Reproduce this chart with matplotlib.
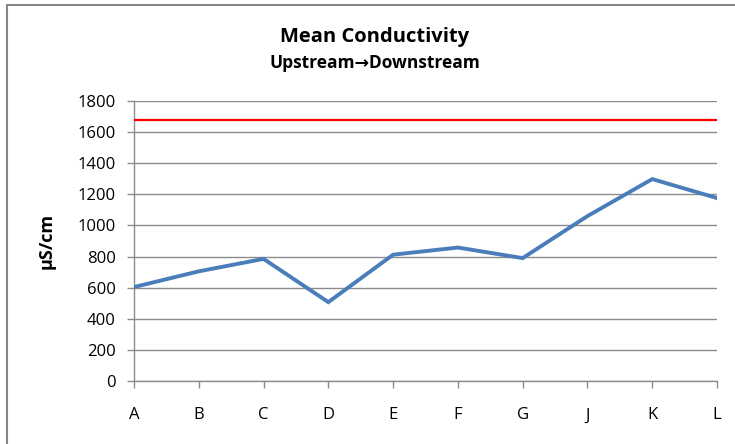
import matplotlib
matplotlib.use("Agg")
import matplotlib.pyplot as plt
from matplotlib.patches import Rectangle

# site labels, upstream -> downstream
sites = ["A", "B", "C", "D", "E", "F", "G", "J", "K", "L"]
conductivity = [604, 705, 785, 507, 812, 858, 790, 1060, 1298, 1176]  # mean, uS/cm
limit = 1680  # reference level (red line)

plt.rcParams['font.family'] = ['Open Sans', 'DejaVu Sans']

fig = plt.figure(figsize=(7.35, 4.44), dpi=100)
ax = fig.add_axes([134/735, 63/444, 583/735, 280/444])

# outer chart border (cropped on right/bottom)
fig.patches.append(Rectangle((7/735, -0.05), 1.2, 1 - 5/444 + 0.05,
                             transform=fig.transFigure, fill=False,
                             edgecolor='#868686', linewidth=1.5))

x = range(len(sites))
ax.axhline(limit, color='#ff0000', linewidth=1.6, zorder=3)
ax.plot(x, conductivity, color='#4a7ebb', linewidth=2.8, solid_joinstyle='miter', zorder=4)

ax.set_xlim(0, len(sites) - 1)
ax.set_ylim(0, 1800)
ax.set_yticks(range(0, 1801, 200))
ax.set_xticks(list(x))
ax.set_xticklabels(sites)

ax.grid(axis='y', color='#8c8c8c', linewidth=1)
ax.set_axisbelow(True)
for s in ['top', 'right']:
    ax.spines[s].set_visible(False)
for s in ['left', 'bottom']:
    ax.spines[s].set_color('#8c8c8c')
    ax.spines[s].set_linewidth(1)
ax.tick_params(axis='both', colors='#8c8c8c', length=5, width=1, labelcolor='black', labelsize=12)
ax.tick_params(axis='x', pad=14)
ax.tick_params(axis='y', pad=8)

ax.set_ylabel('µS/cm', fontsize=13, fontweight='bold', labelpad=16)

fig.text(375/735, 1 - 37/444, 'Mean Conductivity', ha='center', va='center',
         fontsize=14.5, fontweight='bold')
fig.text(375/735, 1 - 63/444, 'Upstream\u2192Downstream', ha='center', va='center',
         fontsize=12.5, fontweight='bold')

fig.savefig('out.png', dpi=100)
